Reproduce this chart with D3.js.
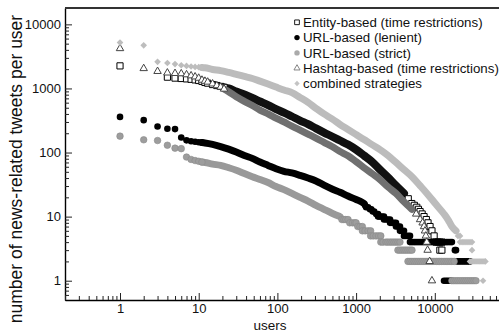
<!DOCTYPE html>
<html>
<head>
<meta charset="utf-8">
<script src="https://cdn.jsdelivr.net/npm/d3@7"></script>
<style>
  html, body { margin: 0; padding: 0; background: #fff; }
  svg { display: block; font-family: "Liberation Sans", Arial, Helvetica, sans-serif; }
</style>
</head>
<body>
<svg id="chart" width="499" height="333"></svg>
<script>
// rank / tweets per user
const seriesNames = ["Entity-based (time restrictions)", "URL-based (lenient)", "URL-based (strict)",
	"Hashtag-based (time restrictions)", "combined strategies"];

const entityHead = [[1,2250],[4,1500],[5,1450],[6,1430],[7,1410],[8,1390],[9,1360],[10,1330],[11,1290],[12,1240],[13,1210],[15,1150],[17,1110],[19,1075],[21,1040]];
const entityBody = [[21,1040],[24,1000],[30,898],[38,805],[48,710],[60,626],[76,550],[96,475],[121,420],[153,365],[194,316],[245,278],[309,238],[391,205],[494,178],[624,154],[789,133],[1000,111],[1260,90],[1590,72],[2010,54],[2540,41],[3210,30.5],[4060,23]];
const entityTail = [[4600,19],[5100,16],[5500,15],[5900,14],[6200,13],[6500,12],[6900,11],[7300,10],[7800,9],[8200,8],[8700,7],[9200,6],[9800,5],[10400,4],[11000,4],[11600,4],[12300,4],[11600,3],[12300,3]];

const lenientHead = [[1,360],[2,320],[3,255],[4,235],[5,232],[6,172],[7,155],[8,150],[9,147],[10,145],[11,143]];
const lenientBody = [[11,143],[12,141],[15,134],[19,124],[24,113],[30,102],[38,90],[48,81],[60,71],[76,63],[96,56],[121,51],[153,48],[194,44],[245,40],[309,36],[391,31],[494,27],[624,24],[789,21],[1000,18.5],[1120,17.4],[1260,16]];
const lenientTail = [[1300,15],[1340,14],[1420,14],[1500,13],[1560,13],[1630,12],[1700,12],[1800,11],[1900,11],[1900,10],[2010,10],[2130,10],[2260,10],[2260,9],[2400,9],[2540,9],[2700,9],[2700,8],[2860,8],[3030,8],[3210,8],[3210,7],[3410,7],[3610,7],[3610,6],[3830,6],[4060,6],[4060,5],[4300,5],[4560,5],[4840,5],[4840,4],[5130,4],[5450,4],[5770,4],[6120,4],[6490,4],[6880,4],[7290,4],[7730,4],[8200,4],[8690,4],[9210,4],[9770,4],[10400,4],[11000,4],[11600,4],[12300,4],[13100,4],[13900,4],[14700,4],[15600,4],[16500,4],[18000,3],[18600,3],[19200,2],[20300,2],[21500,2],[22800,2],[24100,2],[25500,2],[27000,2],[28000,2],[13100,1],[13900,1],[14700,1],[15600,1],[16500,1]];

const strictHead = [[1,180],[2,158],[3,154],[4,130],[5,117],[6,115],[7,85],[8,78],[9,75],[10,73],[11,71]];
const strictBody = [[11,71],[12,70],[15,66],[19,63],[24,58],[30,53],[38,47],[48,42],[60,38],[76,34],[96,29.5],[121,26.4],[153,23],[194,20],[245,17.5],[309,15],[391,13],[494,11.3],[624,10]];
const strictTail = [[660,9],[700,9],[740,9],[790,9],[830,8],[900,8],[960,8],[1000,8],[1050,7],[1120,7],[1200,7],[1200,6],[1300,6],[1420,6],[1530,6],[1530,5],[1650,5],[1790,5],[1930,5],[2060,5],[2060,4],[2200,4],[2400,4],[2540,4],[2700,4],[2860,4],[3030,4],[3210,4],[3400,4],[3610,4],[3400,3],[3610,3],[3830,3],[4060,3],[4300,3],[4560,3],[4840,3],[5130,3],[4560,2],[4840,2],[5130,2],[5450,2],[5770,2],[6120,2],[6490,2],[6880,2],[7290,2],[7730,2],[8200,2],[8690,2],[9210,2],[9770,2],[10400,2],[11000,2],[11600,2],[12300,2],[13100,2],[13900,2],[14700,2],[15600,2],[16500,2],[17600,2],[16500,1],[17500,1],[18600,1],[19700,1],[20900,1],[22200,1],[23500,1],[24900,1],[26400,1],[28000,1],[29700,1],[31500,1],[33400,1]];

const hashtagHead = [[1,4200],[2,2050],[3,1850],[4,1750],[5,1720],[6,1700],[7,1640],[8,1580],[9,1520],[10,1450],[11,1350],[12,1300],[13,1260],[15,1180],[17,1110],[19,1050],[21,980]];
const hashtagBody = [[21,980],[24,890],[30,740],[38,630],[48,542],[60,460],[76,400],[96,345],[121,300],[153,258],[194,224],[245,194],[309,168],[391,144],[494,124],[624,104],[789,89],[1000,72],[1260,58],[1590,47],[2010,38],[2540,29],[3210,23],[4060,17],[5130,13]];
const hashtagTail = [[5800,11],[6500,9],[7000,8],[7300,7],[7500,6],[7700,5],[7900,4],[8100,3],[8600,2],[9200,1]];

const combinedHead = [[1,5200],[2,4700],[3,2600],[4,2500],[5,2400],[6,2300],[7,2250],[8,2200],[9,2170],[10,2150],[11,2120]];
const combinedBody = [[11,2120],[12,2100],[15,1980],[19,1900],[24,1780],[30,1660],[38,1540],[48,1430],[60,1300],[76,1170],[96,1050],[121,945],[153,860],[194,723],[245,605],[309,490],[391,400],[494,335],[624,274],[789,229],[1000,191],[1260,160],[1590,133],[2010,111],[2540,90],[3210,70],[4060,54],[5130,42],[6490,30.5],[8200,22],[10400,15.4],[13100,11],[14700,9],[16500,7],[18600,6]];
const combinedTail = [[19700,5],[20900,5],[20900,4],[22200,4],[23500,4],[24900,4],[26400,4],[28000,4],[29700,4],[29700,3],[28000,2],[29700,2],[31500,2],[33400,2],[35400,2],[37500,2],[39800,2],[42200,2],[44000,2],[41000,1]];

const yTicks = [1, 10, 100, 1000, 10000];
const xTicks = [1, 10, 100, 1000, 10000];

const svg = d3.select("#chart");
const x = d3.scaleLog().domain([0.2, 1e5]).range([65, 513.5]);
const y = d3.scaleLog().domain([0.5, 18000]).range([300, 8]);

// minor ticks 2..9 of every decade
const minors = (lo, hi) => {
	const out = [];
	for (let e = lo; e < hi; e++) for (let m = 2; m <= 9; m++) out.push(m * Math.pow(10, e));
	return out;
};

const sym = (type, size) => d3.symbol().type(type).size(size)();

const styles = [
	{ head: entityHead, body: entityBody, tail: entityTail, band: "#111", bw: 8,
		mark: g => g.append("path").attr("d", sym(d3.symbolSquare, 38)).attr("fill", "#fff").attr("stroke", "#000").attr("stroke-width", 1) },
	{ head: lenientHead, body: lenientBody, tail: lenientTail, band: "#000", bw: 7,
		mark: g => g.append("circle").attr("r", 3.3).attr("fill", "#000") },
	{ head: strictHead, body: strictBody, tail: strictTail, band: "#999", bw: 7,
		mark: g => g.append("circle").attr("r", 3.3).attr("fill", "#9d9d9d").attr("stroke", "#8a8a8a").attr("stroke-width", 0.6) },
	{ head: hashtagHead, body: hashtagBody, tail: hashtagTail, band: "#707070", bw: 7,
		mark: g => g.append("path").attr("d", sym(d3.symbolTriangle, 24)).attr("fill", "#fff").attr("stroke", "#444").attr("stroke-width", 1) },
	{ head: combinedHead, body: combinedBody, tail: combinedTail, band: "#bcbcbc", bw: 7,
		mark: g => g.append("path").attr("d", sym(d3.symbolSquare, 22)).attr("transform", "rotate(45)").attr("fill", "#bdbdbd") }
];

const plot = svg.append("g");
const line = d3.line().x(d => x(d[0])).y(d => y(d[1])).curve(d3.curveMonotoneX);

styles.forEach(s => {
	const g = plot.append("g");
	g.append("path").datum(s.body)
		.attr("d", line)
		.attr("fill", "none")
		.attr("stroke", s.band)
		.attr("stroke-width", s.bw)
		.attr("stroke-linecap", "round")
		.attr("stroke-linejoin", "round");
	g.selectAll("g.pt").data(s.head.concat(s.tail)).enter().append("g")
		.attr("class", "pt")
		.attr("transform", d => "translate(" + x(d[0]) + "," + y(d[1]) + ")")
		.each(function () { s.mark(d3.select(this)); });
});

// axes, ticks pointing inward
const yAxis = svg.append("g").attr("transform", "translate(65,0)")
	.call(d3.axisLeft(y).tickValues(yTicks).tickFormat(d3.format("d")).tickSize(-7).tickSizeOuter(0).tickPadding(4));
svg.append("g").attr("transform", "translate(65,0)")
	.call(d3.axisLeft(y).tickValues(minors(-1, 4).filter(v => v >= 0.5 && v <= 18000)).tickFormat("").tickSize(-4).tickSizeOuter(0))
	.select(".domain").remove();

const xAxis = svg.append("g").attr("transform", "translate(0,300)")
	.call(d3.axisBottom(x).tickValues(xTicks).tickFormat(d3.format("d")).tickSize(-7).tickSizeOuter(0).tickPadding(4));
svg.append("g").attr("transform", "translate(0,300)")
	.call(d3.axisBottom(x).tickValues(minors(-1, 5)).tickFormat("").tickSize(-4).tickSizeOuter(0))
	.select(".domain").remove();

[yAxis, xAxis].forEach(a => {
	a.select(".domain").attr("stroke", "#000").attr("stroke-width", 1.4);
	a.selectAll("text").attr("font-size", 13).attr("fill", "#111").attr("font-family", "Liberation Sans, Arial, sans-serif");
});
svg.selectAll(".tick line").attr("stroke", "#222").attr("stroke-width", 1);

// top frame line
svg.append("line").attr("x1", 65).attr("x2", 513).attr("y1", 8).attr("y2", 8)
	.attr("stroke", "#333").attr("stroke-width", 2);

// axis titles
svg.append("text")
	.attr("transform", "translate(22,169) rotate(-90)")
	.attr("text-anchor", "middle")
	.attr("font-size", 17.5)
	.attr("fill", "#111")
	.text("number of news-related tweets per user");
svg.append("text")
	.attr("x", 270).attr("y", 330)
	.attr("text-anchor", "middle")
	.attr("font-size", 13.5)
	.attr("fill", "#111")
	.text("users");

// legend
const legendMarks = [
	g => g.append("path").attr("d", sym(d3.symbolSquare, 22)).attr("fill", "#fff").attr("stroke", "#000").attr("stroke-width", 0.9),
	g => g.append("circle").attr("r", 2.7).attr("fill", "#000"),
	g => g.append("circle").attr("r", 2.7).attr("fill", "#aaa"),
	g => g.append("path").attr("d", sym(d3.symbolTriangle, 16)).attr("fill", "#fff").attr("stroke", "#777").attr("stroke-width", 0.9),
	g => g.append("path").attr("d", sym(d3.symbolSquare, 14)).attr("transform", "rotate(45)").attr("fill", "#c4c4c4")
];
const legend = svg.append("g").selectAll("g").data(seriesNames).enter().append("g")
	.attr("transform", (d, i) => "translate(297," + (22.3 + i * 15.3) + ")");
legend.each(function (d, i) { legendMarks[i](d3.select(this)); });
legend.append("text")
	.attr("x", 6).attr("dy", "0.36em")
	.attr("font-size", 13.3)
	.attr("fill", "#111")
	.text(d => d);
</script>
</body>
</html>
